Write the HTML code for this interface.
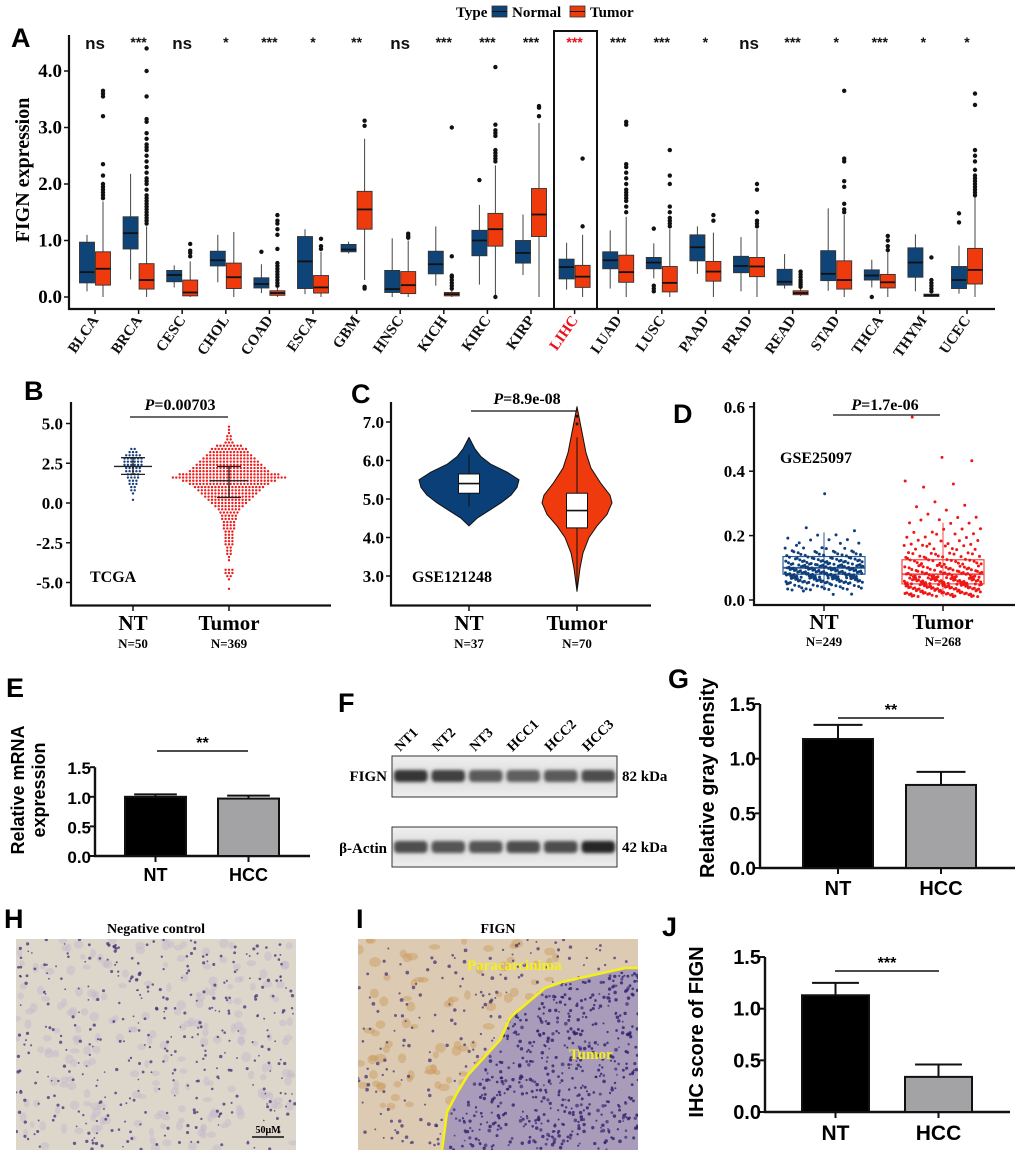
<!DOCTYPE html>
<html><head><meta charset="utf-8"><style>
html,body{margin:0;padding:0;background:#fff;}
svg{display:block;}
.sr{font-family:"Liberation Serif",serif;font-weight:bold;}
.ss{font-family:"Liberation Sans",sans-serif;font-weight:bold;}
</style></head><body>
<svg id="fig" width="1020" height="1155" viewBox="0 0 1020 1155" xmlns="http://www.w3.org/2000/svg">
<defs>
<filter id="blur2" x="-20%" y="-50%" width="140%" height="200%"><feGaussianBlur stdDeviation="1.6"/></filter>
<linearGradient id="blotbg" x1="0" y1="0" x2="0" y2="1"><stop offset="0" stop-color="#f0f0f0"/><stop offset="0.5" stop-color="#dcdcdc"/><stop offset="1" stop-color="#eeeeee"/></linearGradient>
<clipPath id="clipH"><rect x="16" y="939" width="280" height="211"/></clipPath>
<clipPath id="clipI"><rect x="358" y="939" width="280" height="211"/></clipPath>
</defs>
<text class="ss" x="11" y="47" font-size="27">A</text>
<text class="ss" x="24" y="400" font-size="27">B</text>
<text class="ss" x="351" y="403" font-size="27">C</text>
<text class="ss" x="673" y="423" font-size="27">D</text>
<text class="ss" x="6" y="697" font-size="27">E</text>
<text class="ss" x="338" y="712" font-size="27">F</text>
<text class="ss" x="668" y="688" font-size="27">G</text>
<text class="ss" x="4" y="928" font-size="27">H</text>
<text class="ss" x="356" y="928" font-size="27">I</text>
<text class="ss" x="662" y="936" font-size="27">J</text>
<g>
<text class="sr" x="456" y="17" font-size="15">Type</text>
<rect x="492" y="6" width="15" height="11" fill="#0f4479" stroke="#333" stroke-width="0.8"/>
<line x1="492" y1="11.5" x2="507" y2="11.5" stroke="#111" stroke-width="1"/>
<text class="sr" x="512" y="17" font-size="15">Normal</text>
<rect x="570" y="6" width="15" height="11" fill="#ee3a0c" stroke="#333" stroke-width="0.8"/>
<line x1="570" y1="11.5" x2="585" y2="11.5" stroke="#111" stroke-width="1"/>
<text class="sr" x="590" y="17" font-size="15">Tumor</text>
</g>
<text class="sr" transform="translate(29,170) rotate(-90)" text-anchor="middle" font-size="20">FIGN expression</text>
<g id="gA"></g>
<g id="gB"></g>
<g id="gC"></g>
<g id="gD"></g>
<g id="gE"></g>
<g id="gF"></g>
<g id="gG"></g>
<g id="gH"></g>
<g id="gI"></g>
<g id="gJ"></g>
</svg>
<script>
// ---------- Panel A data ----------
const cancers = ["BLCA","BRCA","CESC","CHOL","COAD","ESCA","GBM","HNSC","KICH","KIRC","KIRP","LIHC","LUAD","LUSC","PAAD","PRAD","READ","STAD","THCA","THYM","UCEC"];
const sigLabels = ["ns","***","ns","*","***","*","**","ns","***","***","***","***","***","***","*","ns","***","*","***","*","*"];
const nQ1 = [0.25,0.85,0.27,0.55,0.16,0.15,0.80,0.08,0.41,0.73,0.60,0.32,0.50,0.50,0.64,0.43,0.21,0.29,0.30,0.35,0.15];
const nMed = [0.44,1.13,0.39,0.65,0.23,0.63,0.84,0.14,0.58,1.00,0.78,0.53,0.65,0.61,0.88,0.55,0.27,0.41,0.38,0.61,0.30];
const nQ3 = [0.97,1.42,0.47,0.81,0.34,1.07,0.93,0.47,0.81,1.18,1.00,0.67,0.80,0.70,1.10,0.72,0.49,0.82,0.48,0.87,0.54];
const nLo = [0.10,0.31,0.17,0.26,0.07,0.05,0.77,0.00,0.20,0.22,0.39,0.13,0.15,0.33,0.41,0.10,0.15,0.11,0.17,0.10,0.06];
const nHi = [1.10,2.18,0.56,1.10,0.58,1.20,0.98,1.04,1.25,1.63,1.46,0.96,1.18,0.95,1.25,1.06,0.76,1.57,0.66,1.11,0.91];
const nOut = [[],[],[],[],[0.80],[],[],[],[],[2.07],[],[],[],[0.10,0.15,0.20,1.21],[],[],[],[],[0.0],[],[1.32,1.48]];
const tQ1 = [0.21,0.14,0.02,0.15,0.03,0.07,1.20,0.06,0.02,0.90,1.07,0.17,0.26,0.09,0.28,0.36,0.04,0.14,0.16,0.01,0.23];
const tMed = [0.50,0.30,0.08,0.35,0.07,0.17,1.55,0.21,0.05,1.20,1.46,0.36,0.44,0.25,0.45,0.54,0.07,0.30,0.26,0.03,0.48];
const tQ3 = [0.80,0.59,0.30,0.60,0.11,0.38,1.87,0.45,0.08,1.48,1.92,0.56,0.74,0.54,0.63,0.70,0.11,0.64,0.40,0.05,0.86];
const tLo = [0.00,0.00,0.00,0.00,0.00,0.00,0.30,0.00,0.00,0.00,0.00,0.00,0.00,0.00,0.00,0.00,0.02,0.00,0.00,0.00,0.00];
const tHi = [1.69,1.25,0.63,1.15,0.16,0.80,2.80,1.00,0.12,2.33,3.08,1.10,1.42,1.20,1.14,1.20,0.14,1.45,0.80,0.06,1.78];
const tOut = [
 [1.75,1.8,1.85,1.9,1.95,2.0,2.15,2.35,3.2,3.55,3.6,3.65],
 [1.3,1.35,1.4,1.45,1.5,1.55,1.6,1.65,1.7,1.75,1.8,1.9,2.0,2.05,2.1,2.2,2.3,2.4,2.5,2.6,2.65,2.7,2.8,2.9,3.1,3.15,3.55,4.0,4.4],
 [0.72,0.78,0.82,0.94],[],
 [0.2,0.25,0.3,0.35,0.4,0.45,0.5,0.55,0.6,0.85,1.1,1.2,1.3,1.35,1.45],
 [0.85,0.9,1.03],[0.15,0.18,3.03,3.12],[1.05,1.08,1.12],
 [0.15,0.2,0.25,0.3,0.35,0.38,0.72,3.0],
 [0.0,2.4,2.45,2.5,2.55,2.6,2.85,2.9,2.95,3.05,4.07],
 [3.2,3.35,3.38],[1.25,2.45],
 [1.5,1.6,1.7,1.75,1.8,1.85,1.9,2.0,2.1,2.2,2.3,2.35,3.05,3.1],
 [1.25,1.3,1.35,1.4,1.5,1.6,2.0,2.15,2.6],[1.35,1.45],
 [1.25,1.3,1.35,1.5,1.9,2.0],[0.18,0.22,0.26,0.3,0.35,0.4,0.45],
 [1.5,1.55,1.65,1.95,2.05,2.4,2.45,3.65],[0.83,0.9,1.0,1.08],
 [0.1,0.15,0.2,0.25,0.3,0.7],
 [1.8,1.85,1.9,1.95,2.0,2.05,2.1,2.15,2.25,2.4,2.5,2.6,3.4,3.6]
];
const yTicksA = [0.0,1.0,2.0,3.0,4.0];
const highlightCancer = "LIHC";

// ---------- Panel B data ----------
const bTumorVals = [4.8,4.6,4.4,4.2,4.0,3.8,3.6,3.4,3.2,3.0,2.8,2.6,2.4,2.2,2.0,1.8,1.6,1.4,1.2,1.0,0.8,0.6,0.4,0.2,0.0,-0.2,-0.4,-0.6,-0.8,-1.0,-1.2,-1.4,-1.6,-1.8,-2.0,-2.2,-2.4,-2.6,-2.8,-3.0,-3.2,-3.4,-3.6,-4.2,-4.4,-4.6,-4.8,-5.4];
const bTumorCounts = [1,1,1,2,2,3,8,11,12,14,16,18,20,22,24,30,34,28,24,21,19,17,15,13,11,9,7,6,5,5,4,4,4,3,3,3,3,3,2,2,2,1,1,3,3,2,1,1];
const bNTVals = [3.4,3.2,3.0,2.8,2.6,2.4,2.2,2.0,1.8,1.6,1.4,1.2,1.0,0.8,0.6,0.2];
const bNTCounts = [2,3,5,6,6,6,5,5,4,4,3,3,2,2,1,1];
const bMean = [2.3,1.4];
const bSdLo = [1.8,0.35];
const bSdHi = [2.85,2.3];
const bTicks = [5.0,2.5,0.0,-2.5,-5.0];

// ---------- Panel C data ----------
const cNTy = [4.3,4.5,4.7,4.9,5.1,5.3,5.5,5.7,5.9,6.1,6.3,6.5,6.6];
const cNTw = [0,8,20,32,42,48,50,38,22,12,6,2,0];
const cTy = [2.6,2.8,3.2,3.6,4.0,4.3,4.6,4.9,5.1,5.4,5.8,6.2,6.6,7.0,7.4];
const cTw = [0,1,3,6,12,20,30,35,33,24,14,9,6,3,0];
const cBox = {nt:[4.8,5.15,5.4,5.65,6.15], tumor:[2.6,4.25,4.7,5.15,6.6]};
const cOut = [6.95,7.15];
const cTicks = [3.0,4.0,5.0,6.0,7.0];

// ---------- Panel D data ----------
const dNTVals = [0.02,0.04,0.06,0.08,0.10,0.12,0.14,0.16,0.18,0.20,0.22,0.33];
const dNTCounts = [3,20,45,55,50,35,20,10,6,3,2,1];
const dTVals = [0.02,0.04,0.06,0.08,0.10,0.12,0.14,0.16,0.18,0.20,0.22,0.24,0.26,0.28,0.30,0.36,0.44,0.56];
const dTCounts = [40,45,45,35,25,20,15,10,8,6,5,5,3,2,2,3,2,1];
const dBoxNT = [0.03,0.08,0.10,0.135,0.21];
const dBoxT = [0.01,0.05,0.08,0.125,0.24];
const dTicks = [0.0,0.2,0.4,0.6];

// ---------- Bars ----------
const barCats = ["NT","HCC"];
const eMeans = [1.00,0.97];
const eErr = [1.04,1.02];
const gMeans = [1.18,0.76];
const gErr = [1.31,0.88];
const jMeans = [1.13,0.34];
const jErr = [1.25,0.46];
const barTicks = [0.0,0.5,1.0,1.5];

// ---------- Blot ----------
const lanes = ["NT1","NT2","NT3","HCC1","HCC2","HCC3"];
const fignIntensity = [0.95,0.9,0.8,0.78,0.8,0.85];
const actinIntensity = [0.85,0.82,0.82,0.85,0.85,1.0];

const NS = "http://www.w3.org/2000/svg";
function mk(tag, attrs, parent, txt){
  const e = document.createElementNS(NS, tag);
  for (const k in attrs) e.setAttribute(k, attrs[k]);
  if (txt !== undefined) e.textContent = txt;
  parent.appendChild(e);
  return e;
}
const BLUE = "#0f4479", RED = "#ee3a0c";

// ================= Panel A =================
(function(){
  const g = document.getElementById('gA');
  const yA = v => 297 - v*56.5;
  const xA = i => 95 + i*43.6;
  const ax = mk('path',{d:"M69 35 V309 H995",fill:"none",stroke:"#111","stroke-width":2.2},g);
  
  
  yTicksA.forEach(v=>{
    const t = mk('line',{x1:64,x2:69,y1:yA(v),y2:yA(v),stroke:"#111","stroke-width":1.5},g);
    
    
    const l = mk('text',{x:62,y:yA(v)+6,"text-anchor":"end","font-size":19,class:"sr"},g,v.toFixed(1));
    
    
  });
  cancers.forEach((c,i)=>{
    const cx = xA(i);
    const isH = c===highlightCancer;
    const tk = mk('line',{x1:cx,x2:cx,y1:309,y2:314,stroke:"#111","stroke-width":1.5},g);
    
    
    const lab = mk('text',{x:cx+4,y:320,"text-anchor":"end","font-size":15,class:"sr",fill:isH?"#e8111c":"#111",transform:`rotate(-55 ${cx+4} 320)`},g,c);
    
    
    const s = sigLabels[i];
    const sl = mk('text',{x:cx,y:s==="ns"?49:47,"text-anchor":"middle","font-size":s==="ns"?17:14,class:"ss",fill:isH?"#e8111c":"#111"},g,s);
    
    
    const groups = [[cx-8,nQ1[i],nMed[i],nQ3[i],nLo[i],nHi[i],nOut[i],BLUE,'normal'],[cx+8,tQ1[i],tMed[i],tQ3[i],tLo[i],tHi[i],tOut[i],RED,'tumor']];
    groups.forEach(([bx,q1,md,q3,lo,hi,outs,col,nm])=>{
      const w = mk('line',{x1:bx,x2:bx,y1:yA(lo),y2:yA(hi),stroke:"#444","stroke-width":1},g);
      
      
      const r = mk('rect',{x:bx-7.5,y:yA(q3),width:15,height:Math.max(1.5,yA(q1)-yA(q3)),fill:col,stroke:"#333","stroke-width":0.9},g);
      
      
      const m = mk('line',{x1:bx-7.5,x2:bx+7.5,y1:yA(md),y2:yA(md),stroke:"#111","stroke-width":1.8},g);
      
      
      outs.forEach(o=>{
        const p = mk('circle',{cx:bx,cy:yA(o),r:2.2,fill:"#111"},g);
        
        
      });
    });
  });
  const hb = mk('rect',{x:554,y:31,width:43,height:278,fill:"none",stroke:"#111","stroke-width":2},g);
  
  
})();

// ================= Panel B =================
(function(){
  const g = document.getElementById('gB');
  const yB = v => 503 - v*15.9;
  const xNT = 133, xT = 229;
  const ax = mk('path',{d:"M71 402 V605.5 H331",fill:"none",stroke:"#111","stroke-width":2.2},g);
  
  
  bTicks.forEach(v=>{
    const t = mk('line',{x1:66,x2:71,y1:yB(v),y2:yB(v),stroke:"#111","stroke-width":1.5},g);
    
    
    const l = mk('text',{x:63,y:yB(v)+6,"text-anchor":"end","font-size":17,class:"sr"},g,v.toFixed(1));
    
    
  });
  [[xNT,"NT","N=50"],[xT,"Tumor","N=369"]].forEach(([x,a,b])=>{
    const t = mk('line',{x1:x,x2:x,y1:605,y2:611,stroke:"#111","stroke-width":1.5},g);
    
    
    const l1 = mk('text',{x:x,y:630,"text-anchor":"middle","font-size":21,class:"sr"},g,a);
    
    
    const l2 = mk('text',{x:x,y:648,"text-anchor":"middle","font-size":13,class:"sr"},g,b);
    
    
  });
  function swarm(vals, counts, cx, col, nm){
    vals.forEach((v,i)=>{
      const n = counts[i];
      for(let k=0;k<n;k++){
        const d = mk('circle',{cx:cx+(k-(n-1)/2)*3.4,cy:yB(v),r:1.2,fill:col},g);
        
        
      }
    });
  }
  swarm(bNTVals,bNTCounts,xNT,"#183f7e",'nt');
  swarm(bTumorVals,bTumorCounts,xT,"#ee1c1c",'tumor');
  [xNT,xT].forEach((x,i)=>{
    const hw = 19;
    const m = mk('line',{x1:x-hw,x2:x+hw,y1:yB(bMean[i]),y2:yB(bMean[i]),stroke:"#222","stroke-width":1.3},g);
    
    
    const v = mk('line',{x1:x,x2:x,y1:yB(bSdLo[i]),y2:yB(bSdHi[i]),stroke:"#222","stroke-width":1.3},g);
    
    
    [bSdLo[i],bSdHi[i]].forEach(s=>{
      const c = mk('line',{x1:x-12,x2:x+12,y1:yB(s),y2:yB(s),stroke:"#222","stroke-width":1.3},g);
      
      
    });
  });
  const pl = mk('line',{x1:130,x2:228,y1:417,y2:417,stroke:"#111","stroke-width":1.3},g);
  
  
  const pt = mk('text',{x:180,y:410,"text-anchor":"middle","font-size":16,class:"sr"},g);
  pt.innerHTML = '<tspan font-style="italic">P</tspan>=0.00703';
  
  
  const tl = mk('text',{x:90,y:582,"font-size":16,class:"sr"},g,"TCGA");
  
  
})();

// ================= Panel C =================
(function(){
  const g = document.getElementById('gC');
  const yC = v => 499 - (v-5)*38.5;
  const xNT = 469, xT = 577;
  const ax = mk('path',{d:"M391 402 V605.5 H651",fill:"none",stroke:"#111","stroke-width":2.2},g);
  
  
  cTicks.forEach(v=>{
    const t = mk('line',{x1:386,x2:391,y1:yC(v),y2:yC(v),stroke:"#111","stroke-width":1.5},g);
    
    
    const l = mk('text',{x:384,y:yC(v)+6,"text-anchor":"end","font-size":17,class:"sr"},g,v.toFixed(1));
    
    
  });
  function violin(ys, ws, cx, col, nm){
    let pts = ys.map((y,i)=>`${cx+ws[i]},${yC(y)}`);
    let pts2 = ys.slice().reverse().map((y,i)=>`${cx-ws[ws.length-1-i]},${yC(y)}`);
    const p = mk('polygon',{points:pts.concat(pts2).join(' '),fill:col,stroke:"#111","stroke-width":1,"stroke-linejoin":"round"},g);
    
    
  }
  violin(cNTy,cNTw,xNT,"#0b3f78",'nt');
  violin(cTy,cTw,xT,"#ee3a0c",'tumor');
  [[xNT,cBox.nt,'nt'],[xT,cBox.tumor,'tumor']].forEach(([x,b,nm])=>{
    const w = mk('line',{x1:x,x2:x,y1:yC(b[0]),y2:yC(b[4]),stroke:"#111","stroke-width":1},g);
    
    
    const r = mk('rect',{x:x-10.5,y:yC(b[3]),width:21,height:yC(b[1])-yC(b[3]),fill:"#fff",stroke:"#111","stroke-width":1},g);
    
    
    const m = mk('line',{x1:x-10.5,x2:x+10.5,y1:yC(b[2]),y2:yC(b[2]),stroke:"#111","stroke-width":1.6},g);
    
    
  });
  cOut.forEach(o=>{
    const d = mk('circle',{cx:xT,cy:yC(o),r:1.4,fill:"#111"},g);
    
    
  });
  [[xNT,"NT","N=37"],[xT,"Tumor","N=70"]].forEach(([x,a,b])=>{
    const t = mk('line',{x1:x,x2:x,y1:605,y2:611,stroke:"#111","stroke-width":1.5},g);
    
    
    const l1 = mk('text',{x:x,y:630,"text-anchor":"middle","font-size":21,class:"sr"},g,a);
    
    
    const l2 = mk('text',{x:x,y:648,"text-anchor":"middle","font-size":13,class:"sr"},g,b);
    
    
  });
  const pl = mk('line',{x1:471,x2:577,y1:411,y2:411,stroke:"#111","stroke-width":1.3},g);
  
  
  const pt = mk('text',{x:527,y:404,"text-anchor":"middle","font-size":16,class:"sr"},g);
  pt.innerHTML = '<tspan font-style="italic">P</tspan>=8.9e-08';
  
  
  const tl = mk('text',{x:412,y:582,"font-size":16,class:"sr"},g,"GSE121248");
  
  
})();

// ================= Panel D =================
(function(){
  const g = document.getElementById('gD');
  const yD = v => 600 - v*322;
  const xNT = 824, xT = 943;
  const ax = mk('path',{d:"M754 402 V605 H1015",fill:"none",stroke:"#111","stroke-width":2.2},g);
  
  
  dTicks.forEach(v=>{
    const t = mk('line',{x1:749,x2:754,y1:yD(v),y2:yD(v),stroke:"#111","stroke-width":1.5},g);
    
    
    const l = mk('text',{x:745,y:yD(v)+6,"text-anchor":"end","font-size":17,class:"sr"},g,v.toFixed(1));
    
    
  });
  function jit(vals,counts,cx,col,nm){
    let j=0;
    vals.forEach((v,i)=>{
      for(let k=0;k<counts[i];k++){
        j++;
        const fx = (j*0.6180339)%1 - 0.5, fy = (j*0.3819660+ k*0.137)%1 - 0.5;
        const d = mk('circle',{cx:cx+fx*78,cy:yD(v+fy*0.02),r:1.5,fill:col},g);
        
        
      }
    });
  }
  function box(b,cx,col,nm){
    const w = mk('line',{x1:cx,x2:cx,y1:yD(b[0]),y2:yD(b[4]),stroke:col,"stroke-width":1},g);
    
    
    const r = mk('rect',{x:cx-41,y:yD(b[3]),width:82,height:yD(b[1])-yD(b[3]),fill:"none",stroke:col,"stroke-width":1.2},g);
    
    
    const m = mk('line',{x1:cx-41,x2:cx+41,y1:yD(b[2]),y2:yD(b[2]),stroke:col,"stroke-width":1.8},g);
    
    
  }
  box(dBoxNT,xNT,"#2c5a95",'nt');
  box(dBoxT,xT,"#f04848",'tumor');
  jit(dNTVals,dNTCounts,xNT,"#0f3f7a",'nt');
  jit(dTVals,dTCounts,xT,"#f01616",'tumor');
  [[xNT,"NT","N=249"],[xT,"Tumor","N=268"]].forEach(([x,a,b])=>{
    const t = mk('line',{x1:x,x2:x,y1:605,y2:611,stroke:"#111","stroke-width":1.5},g);
    
    
    const l1 = mk('text',{x:x,y:629,"text-anchor":"middle","font-size":21,class:"sr"},g,a);
    
    
    const l2 = mk('text',{x:x,y:646,"text-anchor":"middle","font-size":13,class:"sr"},g,b);
    
    
  });
  const pl = mk('line',{x1:833,x2:940,y1:415,y2:415,stroke:"#111","stroke-width":1.3},g);
  
  
  const pt = mk('text',{x:885,y:410,"text-anchor":"middle","font-size":16,class:"sr"},g);
  pt.innerHTML = '<tspan font-style="italic">P</tspan>=1.7e-06';
  
  
  const tl = mk('text',{x:780,y:463,"font-size":16,class:"sr"},g,"GSE25097");
  
  
})();

// ================= Bar panels =================
function barPanel(gid, cfg, means, errs, stars, title){
  const g = document.getElementById(gid);
  const y = v => cfg.y0 - v*cfg.k;
  const ax = mk('path',{d:`M${cfg.ax} ${y(1.5)} V${cfg.y0} H${cfg.xr}`,fill:"none",stroke:"#111","stroke-width":2.4},g);
  
  
  barTicks.forEach(v=>{
    const t = mk('line',{x1:cfg.ax-5,x2:cfg.ax,y1:y(v),y2:y(v),stroke:"#111","stroke-width":2},g);
    
    
    const l = mk('text',{x:cfg.ax-4,y:y(v)+7,"text-anchor":"end","font-size":cfg.fs,class:"ss"},g,v.toFixed(1));
    
    
  });
  barCats.forEach((c,i)=>{
    const x0 = cfg.bx[i], w = cfg.bw, cx = x0 + w/2;
    const ev = mk('line',{x1:cx,x2:cx,y1:y(means[i]),y2:y(errs[i]),stroke:"#111","stroke-width":2},g);
    
    
    const ec = mk('line',{x1:cx-w*0.35,x2:cx+w*0.35,y1:y(errs[i]),y2:y(errs[i]),stroke:"#111","stroke-width":2},g);
    
    
    const r = mk('rect',{x:x0,y:y(means[i]),width:w,height:cfg.y0-y(means[i]),fill:i===0?"#000":"#a3a3a5",stroke:"#111","stroke-width":2},g);
    
    
    const t = mk('line',{x1:cx,x2:cx,y1:cfg.y0,y2:cfg.y0+6,stroke:"#111","stroke-width":2},g);
    
    
    const l = mk('text',{x:cx,y:cfg.y0+cfg.fs+8,"text-anchor":"middle","font-size":cfg.fs+1,class:"ss"},g,c);
    
    
  });
  const sl = mk('line',{x1:cfg.sig[0],x2:cfg.sig[1],y1:cfg.sig[2],y2:cfg.sig[2],stroke:"#111","stroke-width":1.5},g);
  
  
  const st = mk('text',{x:(cfg.sig[0]+cfg.sig[1])/2,y:cfg.sig[2]-3,"text-anchor":"middle","font-size":16,class:"ss"},g,stars);
  
  
  title.forEach(([txt,tx,ty])=>{
    const tt = mk('text',{transform:`translate(${tx},${ty}) rotate(-90)`,"text-anchor":"middle","font-size":cfg.tfs,class:"ss"},g,txt);
    
    
  });
}
barPanel('gE',{y0:856,k:59.2,ax:95,xr:310,bx:[125,218],bw:61,fs:17,tfs:18,sig:[157,248,751]},eMeans,eErr,"**",[["Relative mRNA",24,790],["expression",45,790]]);
barPanel('gG',{y0:868,k:109.3,ax:760,xr:1015,bx:[803,906],bw:70,fs:19,tfs:20,sig:[838,944,718]},gMeans,gErr,"**",[["Relative gray density",714,778]]);
barPanel('gJ',{y0:1112,k:103.3,ax:765,xr:1010,bx:[802,905],bw:67,fs:20,tfs:20,sig:[835,939,971]},jMeans,jErr,"***",[["IHC score of FIGN",703,1032]]);

// ================= Panel F =================
(function(){
  const g = document.getElementById('gF');
  const bx0 = 392, bw = 225, lw = bw/lanes.length;
  [[756,41,fignIntensity,776,"fign"],[827,40,actinIntensity,847,"actin"]].forEach(([y0,h,inten,yc,nm])=>{
    const r = mk('rect',{x:bx0,y:y0,width:bw,height:h,fill:"url(#blotbg)",stroke:"#333","stroke-width":1},g);
    
    
    inten.forEach((v,i)=>{
      const gr = Math.round(40 + (1-v)*250);
      const b = mk('rect',{x:bx0+i*lw+2,y:yc-6,width:lw-4,height:12,rx:4,fill:`rgb(${gr},${gr},${gr})`,filter:"url(#blur2)"},g);
      
      
    });
  });
  lanes.forEach((l,i)=>{
    const x = bx0 + i*lw + 8, y = 752;
    const t = mk('text',{x:x,y:y,"font-size":14,class:"sr",transform:`rotate(-45 ${x} ${y})`,"font-weight":"normal"},g,l);
    
    
  });
  [["FIGN",387,781],["β-Actin",387,853]].forEach(([t,x,y])=>{
    const e = mk('text',{x:x,y:y,"text-anchor":"end","font-size":15,class:"sr"},g,t);
    
    
  });
  [["82 kDa",622,781],["42 kDa",622,852]].forEach(([t,x,y])=>{
    const e = mk('text',{x:x,y:y,"font-size":15,class:"sr"},g,t);
    
    
  });
})();

// ================= Tissue images (decorative texture) =================
let seed = 12345;
function rnd(){ seed = (seed*1103515245 + 12345) % 2147483648; return seed/2147483648; }
(function(){
  const g = document.getElementById('gH');
  const t = mk('text',{x:156,y:933,"text-anchor":"middle","font-size":14,class:"sr"},g,"Negative control");
  
  
  const cg = mk('g',{"clip-path":"url(#clipH)"},g);
  const bg = mk('rect',{x:16,y:939,width:280,height:211,fill:"#dcd6cb"},cg);
  
  
  for(let i=0;i<220;i++){ mk('ellipse',{cx:16+rnd()*280,cy:939+rnd()*211,rx:2.5+rnd()*2.5,ry:2.5+rnd()*2.5,fill:"#c1b8cc",opacity:0.45},cg); }
  for(let i=0;i<380;i++){ mk('circle',{cx:16+rnd()*280,cy:939+rnd()*211,r:0.8+rnd()*0.9,fill:"#3e2f78",opacity:0.75},cg); }
  const sb = mk('line',{x1:252,x2:284,y1:1137,y2:1137,stroke:"#111","stroke-width":1.5},g);
  
  
  const st = mk('text',{x:268,y:1133,"text-anchor":"middle","font-size":10,class:"sr"},g,"50μM");
  
  
})();
(function(){
  const g = document.getElementById('gI');
  const t = mk('text',{x:498,y:933,"text-anchor":"middle","font-size":14,class:"sr"},g,"FIGN");
  
  
  const cg = mk('g',{"clip-path":"url(#clipI)"},g);
  const bg = mk('rect',{x:358,y:939,width:280,height:211,fill:"#dccbb2"},cg);
  
  
  for(let i=0;i<110;i++){ mk('ellipse',{cx:358+rnd()*200,cy:939+rnd()*170,rx:3+rnd()*3,ry:2.5+rnd()*2.5,fill:"#c99a5c",opacity:0.45},cg); }
  const bd = "442,1150 447,1112 457,1093 468,1075 500,1040 510,1018 513,1015 545,988 562,982 625,968 638,968";
  const tum = mk('polygon',{points:bd+" 638,1150",fill:"#a89cba"},cg);
  
  
  for(let i=0;i<300;i++){ mk('circle',{cx:358+rnd()*280,cy:939+rnd()*211,r:0.9+rnd()*1.0,fill:"#3a2a74",opacity:0.7},cg); }
  for(let i=0;i<650;i++){
    const x = 440+rnd()*198, y = 965+rnd()*185;
    const yb = x<513 ? 1150-(x-442)*(1150-1015)/71 : (x<562?1015-(x-513)*0.67:982-(x-562)*0.18);
    if (y>yb) mk('circle',{cx:x,cy:y,r:1.0+rnd()*0.8,fill:"#2e1f6e",opacity:0.8},cg);
  }
  const bl = mk('polyline',{points:bd,fill:"none",stroke:"#f5f017","stroke-width":2.6},g);
  
  
  const pt = mk('text',{x:467,y:970,"font-size":15,class:"sr",fill:"#f5f017"},g,"Paracarcinima");
  
  
  const tt = mk('text',{x:569,y:1059,"font-size":15,class:"sr",fill:"#f5f017"},g,"Tumor");
  
  
})();
</script>
</body></html>
